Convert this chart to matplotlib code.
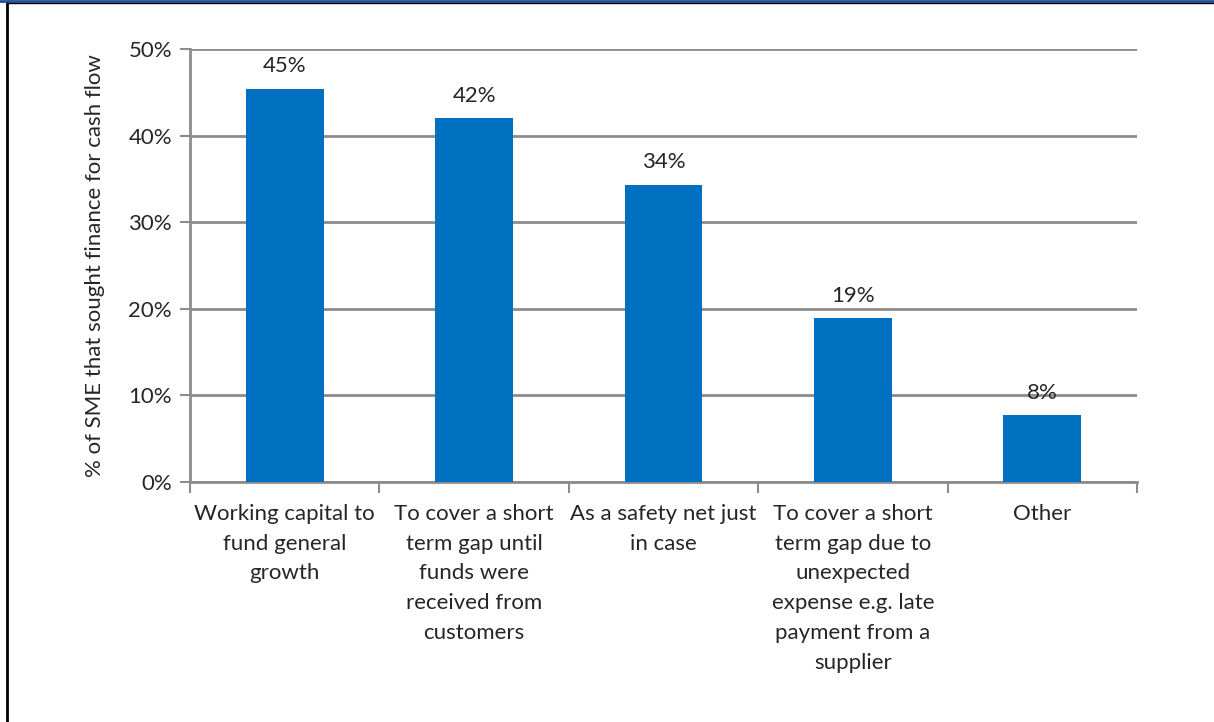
import numpy as np
import matplotlib
matplotlib.use('Agg')
import matplotlib.pyplot as plt
from matplotlib.lines import Line2D

# Reasons SMEs sought finance for cash flow
reasons = [
    'Working capital to\nfund general\ngrowth',
    'To cover a short\nterm gap until\nfunds were\nreceived from\ncustomers',
    'As a safety net just\nin case',
    'To cover a short\nterm gap due to\nunexpected\nexpense e.g. late\npayment from a\nsupplier',
    'Other',
]
share_pct = [45.4, 42.0, 34.3, 18.9, 7.7]
y_ticks = [0, 10, 20, 30, 40, 50]

plt.rcParams['font.family'] = ['Lato', 'DejaVu Sans']
grey = '#8c8c8c'
text_col = '#262626'
fs = 16

fig = plt.figure(figsize=(12.14, 7.22), dpi=100)
ax = fig.add_axes([190 / 1214, 1 - 482 / 722, 947 / 1214, 433 / 722])

x = np.arange(len(reasons))
ax.bar(x, share_pct, width=0.41, color='#0070C0', zorder=3)

for xi, v in zip(x, share_pct):
    ax.annotate(f'{v:.0f}%', (xi, v), xytext=(0, 9), textcoords='offset points',
                ha='center', va='bottom', fontsize=fs, color=text_col)

ax.set_xlim(-0.5, len(reasons) - 0.5)
ax.set_ylim(0, 50)
ax.set_yticks(y_ticks)
ax.set_yticklabels([f'{t}%' for t in y_ticks], fontsize=fs, color=text_col)
ax.yaxis.grid(True, color=grey, linewidth=2, zorder=0)
ax.tick_params(axis='y', length=7, width=1.5, color=grey, pad=6)

# category labels between boundary ticks
ax.set_xticks(np.arange(len(reasons) + 1) - 0.5)
ax.set_xticklabels([])
ax.tick_params(axis='x', length=8, width=1.5, color=grey)
for xi, lab in zip(x, reasons):
    ax.text(xi, -0.05, lab, transform=ax.get_xaxis_transform(), ha='center',
            va='top', fontsize=fs, color=text_col, linespacing=1.62)

for side in ['top', 'right']:
    ax.spines[side].set_visible(False)
for side in ['left', 'bottom']:
    ax.spines[side].set_color(grey)
    ax.spines[side].set_linewidth(2)

ax.set_ylabel('% of SME that sought finance for cash flow', fontsize=fs,
              color=text_col, labelpad=17)

# frame of the surrounding page
fig.add_artist(Line2D([7 / 1214, 7 / 1214], [0, 1 - 3 / 722], transform=fig.transFigure,
                      color='black', linewidth=2))
fig.add_artist(Line2D([0, 1], [1 - 1 / 722, 1 - 1 / 722], transform=fig.transFigure,
                      color='#1f4e9c', linewidth=2))
fig.add_artist(Line2D([7 / 1214, 1], [1 - 3 / 722, 1 - 3 / 722], transform=fig.transFigure,
                      color='black', linewidth=1))

fig.savefig('out.png', dpi=100)
